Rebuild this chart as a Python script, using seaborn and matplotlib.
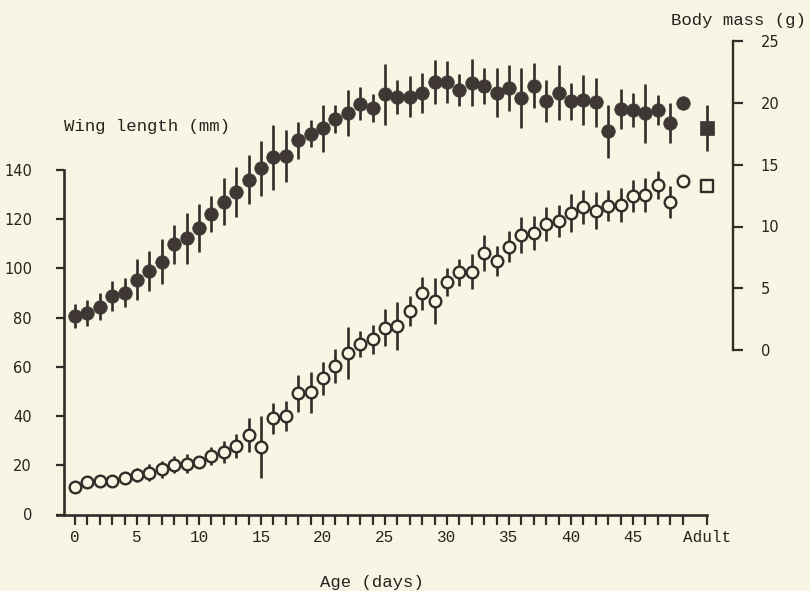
import numpy as np
import pandas as pd
import matplotlib
matplotlib.use("Agg")
import matplotlib.pyplot as plt
import seaborn as sns

# ---------------- data ----------------
days = list(range(0, 50))
body_mass = [2.75, 3.0, 3.5, 4.35, 4.65, 5.7, 6.4, 7.15, 8.55, 9.05,
             9.9, 11.0, 12.0, 12.8, 13.8, 14.7, 15.6, 15.7, 17.0, 17.5,
             17.95, 18.7, 19.2, 19.95, 19.6, 20.7, 20.5, 20.5, 20.8, 21.7,
             21.7, 21.05, 21.65, 21.4, 20.85, 21.2, 20.4, 21.4, 20.15, 20.85,
             20.15, 20.25, 20.05, 17.7, 19.5, 19.45, 19.15, 19.45, 18.4, 20.0]
body_mass_err = [1.0, 1.05, 1.1, 1.2, 1.15, 1.65, 1.6, 1.8, 1.55, 2.05,
                 1.95, 1.45, 1.9, 2.05, 2.0, 2.2, 2.65, 2.1, 1.5, 1.1,
                 1.9, 1.1, 1.85, 1.35, 1.1, 2.45, 1.4, 1.65, 1.6, 1.8,
                 1.7, 1.3, 1.9, 1.45, 1.95, 1.85, 2.4, 1.8, 1.7, 2.25,
                 1.5, 2.05, 2.0, 2.15, 1.6, 1.4, 2.4, 1.2, 1.6, 0.0]
wing_length = [11.0, 13.0, 13.5, 13.5, 15.0, 16.0, 17.0, 18.3, 20.3, 20.7,
               21.4, 23.7, 25.4, 27.7, 32.2, 27.4, 39.0, 40.0, 49.3, 49.7,
               55.3, 60.4, 65.7, 69.2, 71.1, 75.9, 76.7, 82.6, 89.8, 86.7,
               94.5, 98.3, 98.6, 106.3, 102.9, 108.7, 113.6, 114.2, 118.0, 119.3,
               122.5, 124.8, 123.4, 125.3, 125.7, 129.3, 129.7, 133.8, 127.0, 135.4]
wing_length_err = [0.0, 0.0, 0.0, 0.0, 1.5, 3.0, 3.4, 3.6, 3.6, 3.8,
                   2.0, 3.8, 4.6, 4.8, 6.8, 12.5, 6.3, 6.0, 7.5, 8.3,
                   6.6, 6.8, 10.5, 5.4, 5.8, 7.6, 9.7, 6.0, 6.8, 9.5,
                   5.6, 5.4, 7.1, 7.4, 6.1, 6.3, 7.4, 6.9, 7.0, 6.5,
                   7.6, 7.0, 7.6, 6.3, 6.8, 6.4, 6.8, 5.8, 6.4, 0.0]
adult_pos = 51
adult_mass = [17.95]
adult_mass_err = [1.85]
adult_wing = [133.4]

x_tick_labels = ["0", "5", "10", "15", "20", "25", "30", "35", "40", "45", "Adult"]
left_ticks = [0, 20, 40, 60, 80, 100, 120, 140]
right_ticks = [0, 5, 10, 15, 20, 25]

# ---------------- style ----------------
BG = "#f7f5e3"
DARK = "#332c29"
FILL = "#3e3734"
sns.set_theme(style="white")
plt.rcParams["font.family"] = ["Liberation Mono", "DejaVu Sans"]

W, H = 810, 591
fig = plt.figure(figsize=(W / 100, H / 100), dpi=100, facecolor=BG)

# pixel geometry
px0, pxs = 75.0, 12.4          # x pixel of day 0, pixels per day
L, R = 64.0, 733.0             # left / right spine pixels
y0_left, mm_px = 514.5, 2.4625 # pixel of 0 mm, pixels per mm
y0_right, g_px = 350.0, 12.35  # pixel of 0 g, pixels per g
top_px = 30.0

ax = fig.add_axes([L / W, (H - y0_left) / H, (R - L) / W, (y0_left - top_px) / H])
ax.set_facecolor(BG)
ax.set_xlim((L - px0) / pxs, (R - px0) / pxs)
ax.set_ylim(0, (y0_left - top_px) / mm_px)

ax2 = ax.twinx()
ax2.patch.set_visible(False)
ax2.set_ylim((y0_right - y0_left) / g_px, (y0_right - top_px) / g_px)

df_w = pd.DataFrame({"day": days, "wing": wing_length, "err": wing_length_err})
df_m = pd.DataFrame({"day": days, "mass": body_mass, "err": body_mass_err})

# error bars
ax.errorbar(df_w["day"], df_w["wing"], yerr=df_w["err"], fmt="none",
            ecolor=DARK, elinewidth=1.9, capsize=0, zorder=2)
ax2.errorbar(df_m["day"], df_m["mass"], yerr=df_m["err"], fmt="none",
             ecolor=DARK, elinewidth=1.9, capsize=0, zorder=2)
ax2.errorbar([adult_pos], adult_mass, yerr=adult_mass_err, fmt="none",
             ecolor=DARK, elinewidth=1.9, capsize=0, zorder=2)

# markers
sns.scatterplot(data=df_w, x="day", y="wing", ax=ax, marker="o", s=70,
                color=BG, edgecolor=DARK, linewidth=1.7, zorder=3, legend=False)
sns.scatterplot(x=[adult_pos], y=adult_wing, ax=ax, marker="s", s=80,
                color=BG, edgecolor=DARK, linewidth=1.7, zorder=3, legend=False)
sns.scatterplot(data=df_m, x="day", y="mass", ax=ax2, marker="o", s=95,
                color=FILL, edgecolor=FILL, linewidth=0.5, zorder=3, legend=False)
sns.scatterplot(x=[adult_pos], y=adult_mass, ax=ax2, marker="s", s=110,
                color=FILL, edgecolor=FILL, linewidth=0.5, zorder=3, legend=False)

# spines
for a in (ax, ax2):
    a.spines["top"].set_visible(False)
ax.spines["right"].set_visible(False)
ax2.spines["left"].set_visible(False)
ax2.spines["bottom"].set_visible(False)
for s in ("left", "bottom"):
    ax.spines[s].set_color(DARK)
    ax.spines[s].set_linewidth(1.9)
ax2.spines["right"].set_color(DARK)
ax2.spines["right"].set_linewidth(1.7)
ax.spines["left"].set_bounds(0, 140)
ax.spines["bottom"].set_bounds((57 - px0) / pxs, adult_pos)
ax2.spines["right"].set_bounds(0, 25)

# x ticks
major_x = [0, 5, 10, 15, 20, 25, 30, 35, 40, 45, adult_pos]
minor_x = [d for d in days if d % 5 != 0]
ax.set_xticks(major_x)
ax.set_xticklabels(x_tick_labels, fontsize=11.5, color="#262220")
ax.set_xticks(minor_x, minor=True)
ax.tick_params(axis="x", which="both", direction="out", length=7, width=1.6,
               color=DARK, pad=4, bottom=True)

# left y ticks
ax.set_yticks(left_ticks)
ax.set_yticklabels([str(v) for v in left_ticks], fontsize=10.5,
                   family="DejaVu Sans", color="#262220")
ax.tick_params(axis="y", which="both", direction="out", length=6, width=1.6,
               color=DARK, pad=17, left=True)

# right y ticks
ax2.set_yticks(right_ticks)
ax2.set_yticklabels([str(v) for v in right_ticks], fontsize=10.5,
                    family="DejaVu Sans", color="#262220")
ax2.tick_params(axis="y", direction="out", length=7, width=1.6, color=DARK,
                pad=13, right=True)

ax.set_xlabel("")
ax.set_ylabel("")
ax2.set_ylabel("")
ax.grid(False)
ax2.grid(False)

# titles / labels
fig.text(64 / W, 1 - 127 / H, "Wing length (mm)", ha="left", va="center",
         fontsize=12.5, color="#262220")
fig.text(806 / W, 1 - 20 / H, "Body mass (g)", ha="right", va="center",
         fontsize=12.5, color="#262220")
fig.text(372 / W, 1 - 583 / H, "Age (days)", ha="center", va="center",
         fontsize=12.5, color="#262220")

fig.savefig("out.png", dpi=100, facecolor=BG)
